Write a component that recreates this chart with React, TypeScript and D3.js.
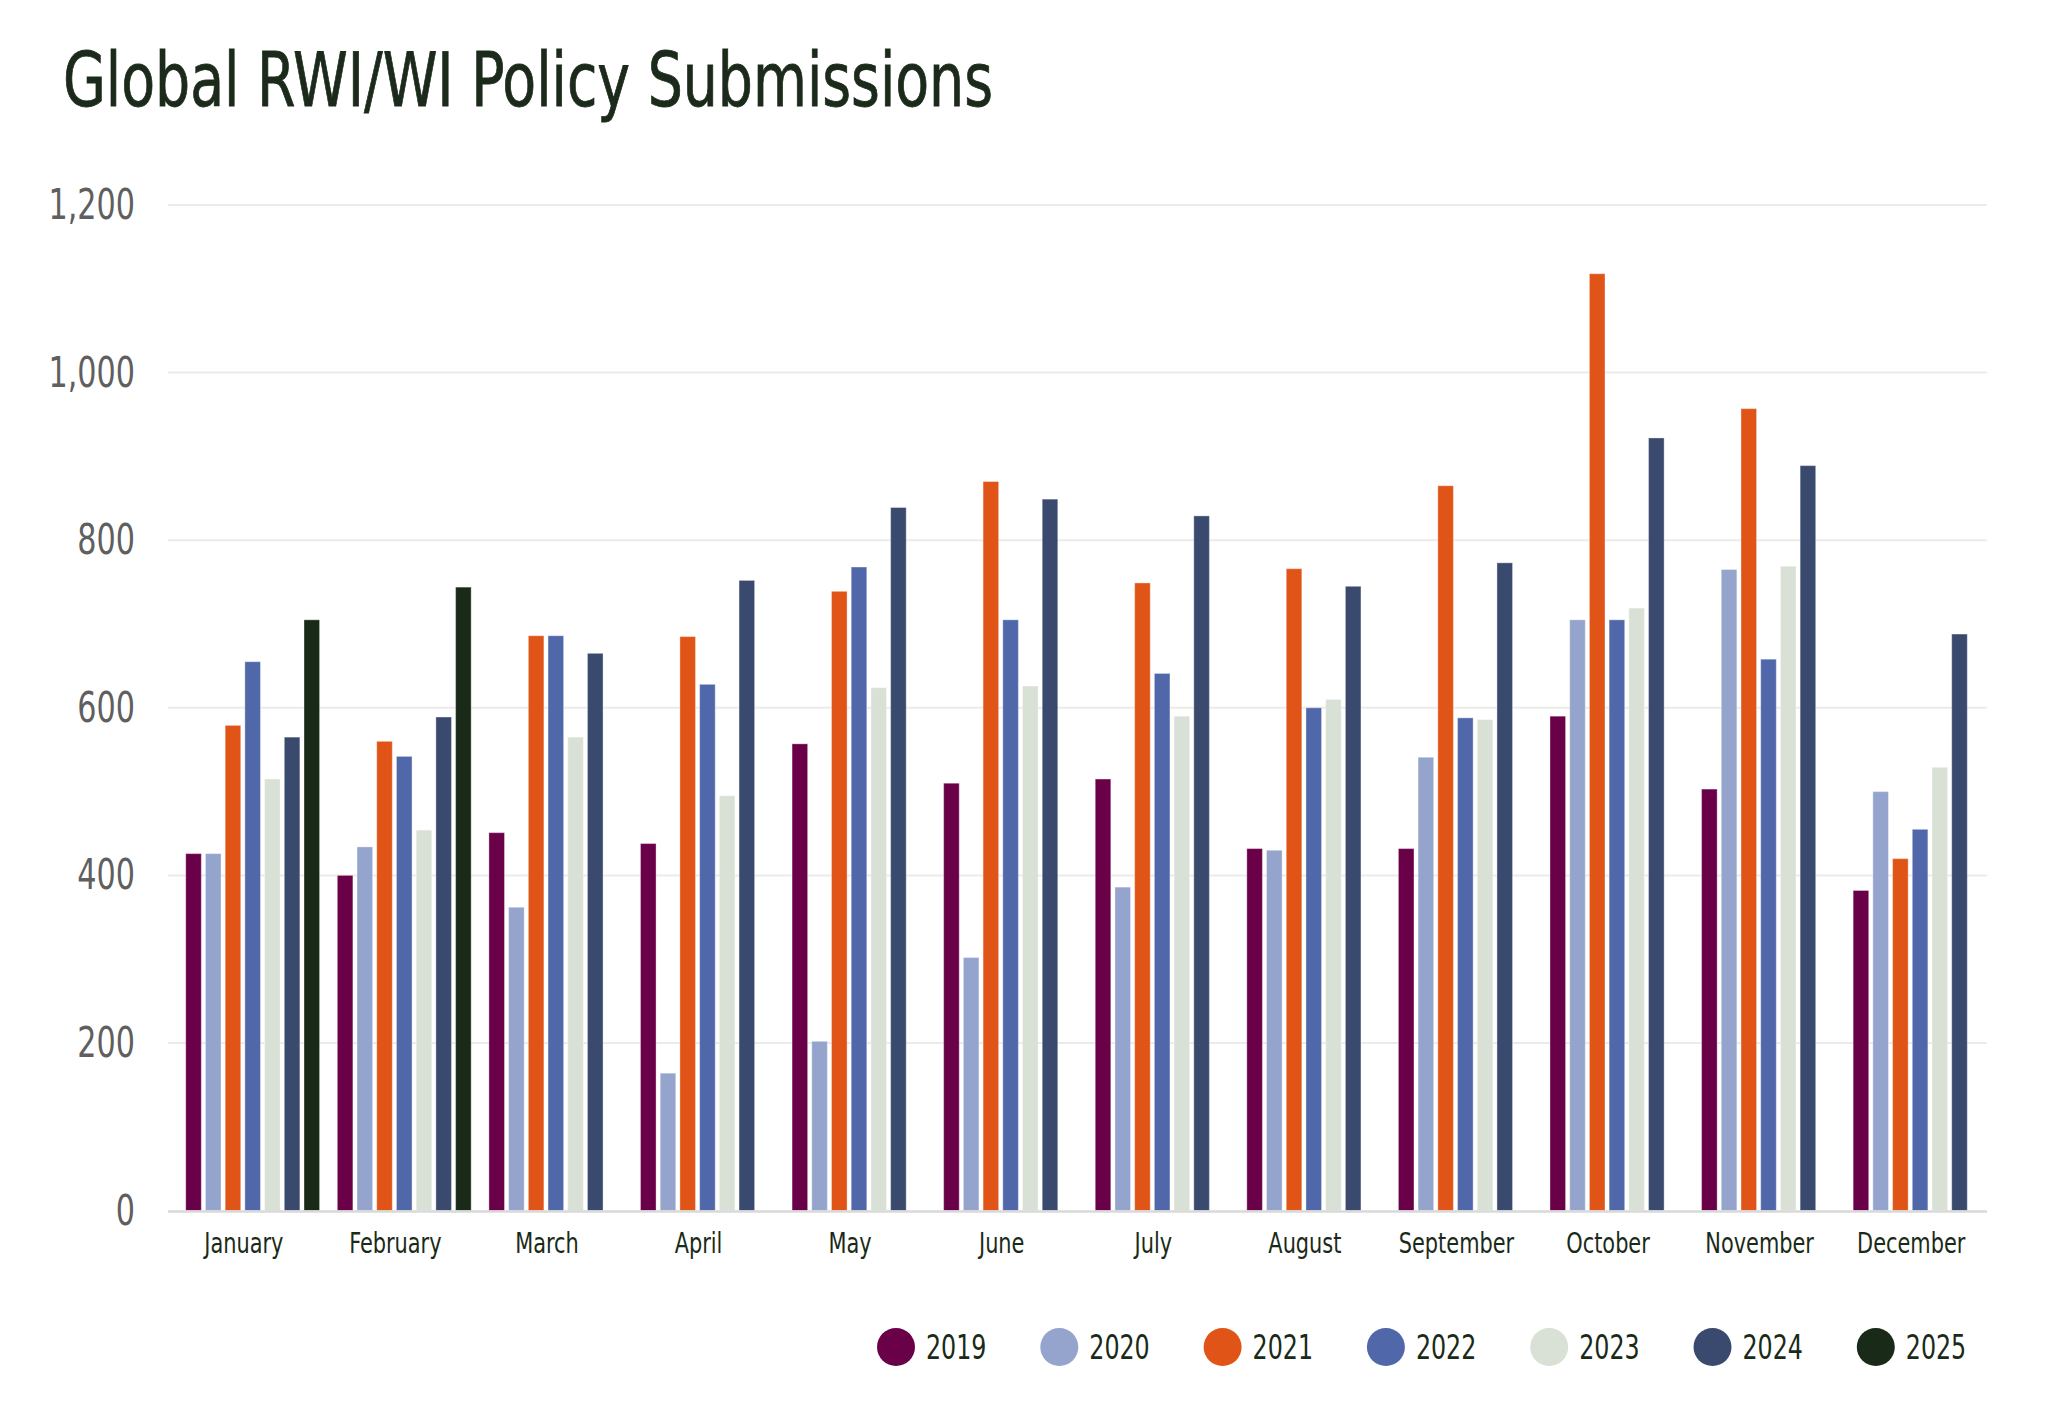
import * as d3 from "d3";

const months = [
  "January", "February", "March", "April", "May", "June",
  "July", "August", "September", "October", "November", "December",
];
const years = ["2019", "2020", "2021", "2022", "2023", "2024", "2025"];

const v2019 = [426, 400, 451, 438, 557, 510, 515, 432, 432, 590, 503, 382];
const v2020 = [426, 434, 362, 164, 202, 302, 386, 430, 541, 705, 765, 500];
const v2021 = [579, 560, 686, 685, 739, 870, 749, 766, 865, 1118, 957, 420];
const v2022 = [655, 542, 686, 628, 768, 705, 641, 600, 588, 705, 658, 455];
const v2023 = [515, 454, 565, 495, 624, 626, 590, 610, 586, 719, 769, 529];
const v2024 = [565, 589, 665, 752, 839, 849, 829, 745, 773, 922, 889, 688];
const v2025 = [705, 744, null, null, null, null, null, null, null, null, null, null];

const yTicks = [0, 200, 400, 600, 800, 1000, 1200];

const colors = ["#6a0048", "#94a4cc", "#e05517", "#5068a9", "#d9e1d6", "#3a4a6e", "#1a2a18"];

const seriesByYear = [v2019, v2020, v2021, v2022, v2023, v2024, v2025];

// no narrow font installed, so squeeze the condensed one a bit
const FONT = "'DejaVu Sans Condensed', 'DejaVu Sans', sans-serif";
const SQUEEZE = 0.8;
const INK = "#1a2a18";

function NarrowText({ x, y, children, ...rest }: any) {
  return (
    <text transform={`translate(${x},${y}) scale(${SQUEEZE},1)`} {...rest}>
      {children}
    </text>
  );
}

export default function App() {
  const width = 2048;
  const height = 1427;
  const left = 168;
  const right = 1987;
  const top = 205;
  const bottom = 1210.6;

  const x0 = d3.scaleBand().domain(months).range([left, right]).padding(0);
  const x1 = d3
    .scaleBand()
    .domain(years)
    .range([x0.bandwidth() * 0.117, x0.bandwidth()])
    .paddingInner(0.21);
  const y = d3.scaleLinear().domain([0, 1200]).range([bottom, top]);
  const color = d3.scaleOrdinal<string, string>().domain(years).range(colors);
  const fmt = d3.format(",");

  const bars = seriesByYear.flatMap((vals, yi) =>
    vals
      .map((v, mi) => ({ year: years[yi], month: months[mi], value: v }))
      .filter((d) => d.value != null)
  );

  const legendStep = 163.3;
  const legendX0 = 896;

  return (
    <svg
      width={width}
      height={height}
      style={{ position: "absolute", left: 0, top: 0, background: "#fff" }}
      fontFamily={FONT}
    >
      <rect width={width} height={height} fill="#fff" />
      <text
        x={63}
        y={106}
        fontSize={75}
        fill="#1b2a1a"
        stroke="#1b2a1a"
        strokeWidth={0.8}
        textLength={930}
        lengthAdjust="spacingAndGlyphs"
      >
        Global RWI/WI Policy Submissions
      </text>

      {yTicks.map((t) => (
        <g key={t}>
          {t > 0 && (
            <line x1={left} x2={right} y1={y(t)} y2={y(t)} stroke="#ebebe8" strokeWidth={2} />
          )}
          <NarrowText x={135} y={y(t) + 14} textAnchor="end" fontSize={42} fill="#5f5f5f">
            {fmt(t)}
          </NarrowText>
        </g>
      ))}

      {bars.map((d) => (
        <rect
          key={d.year + d.month}
          x={(x0(d.month) ?? 0) + (x1(d.year) ?? 0)}
          y={y(d.value as number)}
          width={x1.bandwidth()}
          height={y(0) - y(d.value as number)}
          fill={color(d.year)}
          stroke="#ffffff"
          strokeOpacity={0.35}
          strokeWidth={1}
        />
      ))}

      <line x1={left} x2={right} y1={bottom + 1} y2={bottom + 1} stroke="#d9d9d9" strokeWidth={2.5} />

      {months.map((m) => (
        <NarrowText
          key={m}
          x={(x0(m) ?? 0) + x0.bandwidth() / 2}
          y={1253}
          textAnchor="middle"
          fontSize={29}
          fill={INK}
        >
          {m}
        </NarrowText>
      ))}

      {years.map((yr, i) => {
        const cx = legendX0 + i * legendStep;
        return (
          <g key={yr}>
            <circle cx={cx} cy={1347} r={19} fill={color(yr)} />
            <NarrowText x={cx + 30} y={1359} fontSize={33} fill={INK}>
              {yr}
            </NarrowText>
          </g>
        );
      })}
    </svg>
  );
}
